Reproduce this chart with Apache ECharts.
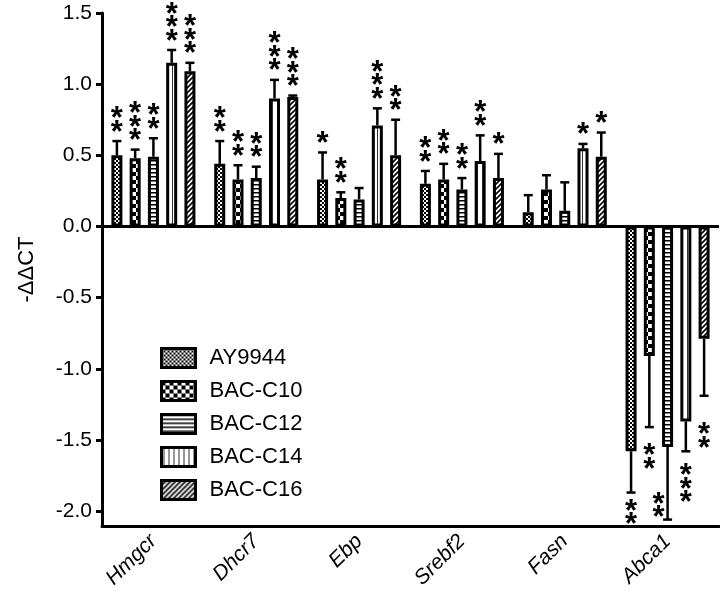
<!DOCTYPE html>
<html><head><meta charset="utf-8">
<script src="https://cdn.jsdelivr.net/npm/echarts@6/dist/echarts.min.js"></script>
<style>html,body{margin:0;padding:0;background:#fff}#c{width:720px;height:600px}</style>
</head><body><div id="c"></div>
<script>
// ---- data ----
const genes = ['Hmgcr', 'Dhcr7', 'Ebp', 'Srebf2', 'Fasn', 'Abca1'];
const seriesNames = ['AY9944', 'BAC-C10', 'BAC-C12', 'BAC-C14', 'BAC-C16'];
const ay9944 = [0.50, 0.44, 0.33, 0.30, 0.10, -1.58];
const bacC10 = [0.48, 0.33, 0.20, 0.33, 0.26, -0.91];
const bacC12 = [0.49, 0.34, 0.19, 0.26, 0.11, -1.55];
const bacC14 = [1.15, 0.90, 0.71, 0.46, 0.55, -1.37];
const bacC16 = [1.09, 0.91, 0.50, 0.34, 0.49, -0.79];
const ay9944Err = [0.10, 0.16, 0.19, 0.09, 0.12, 0.29];
const bacC10Err = [0.06, 0.10, 0.04, 0.11, 0.10, 0.50];
const bacC12Err = [0.13, 0.08, 0.08, 0.08, 0.20, 0.51];
const bacC14Err = [0.09, 0.13, 0.12, 0.18, 0.03, 0.21];
const bacC16Err = [0.06, 0.01, 0.25, 0.17, 0.17, 0.40];
// number of significance asterisks
const ay9944Stars = [2, 2, 1, 2, 0, 2];
const bacC10Stars = [3, 2, 2, 2, 0, 2];
const bacC12Stars = [2, 2, 0, 2, 0, 2];
const bacC14Stars = [3, 3, 3, 2, 1, 3];
const bacC16Stars = [3, 3, 2, 1, 1, 2];
// value at which the first asterisk of the negative (Abca1) bars sits
const abca1StarAt = [-1.96, -1.57, -1.91, -1.71, -1.42];
const yTicks = [-2.0, -1.5, -1.0, -0.5, 0.0, 0.5, 1.0, 1.5];
const yMin = -2.105, yMax = 1.5;

const values = [ay9944, bacC10, bacC12, bacC14, bacC16];
const errs = [ay9944Err, bacC10Err, bacC12Err, bacC14Err, bacC16Err];
const stars = [ay9944Stars, bacC10Stars, bacC12Stars, bacC14Stars, bacC16Stars];

// ---- patterns ----
function makePattern(kind) {
  const c = document.createElement('canvas');
  let s = 4;
  if (kind === 'check') s = 8;
  if (kind === 'vlines') s = 5;
  if (kind === 'diag') s = 5;
  c.width = s; c.height = s;
  const g = c.getContext('2d');
  g.fillStyle = '#fff'; g.fillRect(0, 0, s, s);
  g.fillStyle = '#000'; g.strokeStyle = '#000';
  if (kind === 'fine') { g.fillRect(0, 0, 2, 2); g.fillRect(2, 2, 2, 2); }
  if (kind === 'check') { g.fillRect(0, 0, 4, 4); g.fillRect(4, 4, 4, 4); }
  if (kind === 'hlines') { g.fillRect(0, 0, s, 1.5); }
  if (kind === 'vlines') { g.fillStyle = '#333'; g.fillRect(2, 0, 1, s); }
  if (kind === 'diag') {
    g.lineWidth = 1.6;
    g.beginPath();
    g.moveTo(-1, s + 1); g.lineTo(s + 1, -1);
    g.moveTo(-1, 1); g.lineTo(1, -1);
    g.moveTo(s - 1, s + 1); g.lineTo(s + 1, s - 1);
    g.stroke();
  }
  return { image: c, repeat: 'repeat' };
}
const patterns = ['fine', 'check', 'hlines', 'vlines', 'diag'].map(makePattern);

const BAR_W = 11, BAR_GAP = 0.66;
const FONT = '"Liberation Sans", Arial, Helvetica, sans-serif';

const barSeries = seriesNames.map((n, i) => ({
  name: n, type: 'bar', data: values[i], barWidth: BAR_W, barGap: '66%',
  itemStyle: { color: patterns[i], borderColor: '#000', borderWidth: 3 },
  emphasis: { disabled: true }, z: 2,
  markLine: i === 0 ? {
    silent: true, symbol: 'none', label: { show: false },
    lineStyle: { color: '#000', width: 3, type: 'solid' },
    data: [{ yAxis: 0 }]
  } : undefined
}));

const errData = [];
for (let s = 0; s < 5; s++) {
  for (let c = 0; c < genes.length; c++) {
    const anchor = values[s][c] < 0 ? abca1StarAt[s] : NaN;
    errData.push([c, s, values[s][c], errs[s][c], stars[s][c], anchor]);
  }
}

const errSeries = {
  type: 'custom', name: 'err', data: errData, z: 3,
  encode: { x: 0, y: 2 }, silent: true,
  renderItem(params, api) {
    const ci = api.value(0), si = api.value(1), v = api.value(2), e = api.value(3), n = api.value(4), anchor = api.value(5);
    const base = api.coord([ci, v]);
    const x = base[0] + (si - 2) * BAR_W * (1 + BAR_GAP);
    const y0 = base[1];
    const y1 = api.coord([ci, v >= 0 ? v + e : v - e])[1];
    const children = [
      { type: 'line', shape: { x1: x, y1: y0, x2: x, y2: y1 }, style: { stroke: '#000', lineWidth: 2.5 } },
      { type: 'line', shape: { x1: x - 4.5, y1: y1, x2: x + 4.5, y2: y1 }, style: { stroke: '#000', lineWidth: 2.5 } }
    ];
    for (let k = 0; k < n; k++) {
      let cy, cx = x;
      if (v >= 0) {
        cy = y1 - 15 - (n - 1 - k) * 13.5;
      } else {
        const top = isNaN(anchor) ? y1 + 13 : api.coord([ci, anchor])[1];
        cy = top + k * 13.5;
        if (top + (n - 1) * 13.5 < y1 + 4) cx = x - 9;
      }
      children.push({ type: 'text', style: { text: '*', x: cx, y: cy + 7, font: 'bold 31px ' + FONT, textAlign: 'center', textVerticalAlign: 'middle', fill: '#000' } });
    }
    return { type: 'group', children };
  }
};

const chart = echarts.init(document.getElementById('c'), null, { renderer: 'canvas' });
chart.setOption({
  animation: false,
  backgroundColor: '#fff',
  grid: { left: 102, right: 1, top: 13, bottom: 74, containLabel: false },
  legend: {
    data: seriesNames, orient: 'vertical', left: 155, top: 342,
    icon: 'rect', itemWidth: 34, itemHeight: 19, itemGap: 11,
    itemStyle: { borderColor: '#000', borderWidth: 3 },
    textStyle: { fontFamily: FONT, fontSize: 22, color: '#000', padding: [0, 0, 0, 9] },
    selectedMode: false
  },
  xAxis: {
    type: 'category', data: genes,
    axisLine: { onZero: false, lineStyle: { color: '#000', width: 3 } },
    axisTick: { alignWithLabel: true, length: 7, lineStyle: { color: '#000', width: 3 } },
    axisLabel: { rotate: 45, fontFamily: FONT, fontSize: 21, fontStyle: 'italic', color: '#000', margin: 12 },
    splitLine: { show: false }
  },
  yAxis: {
    type: 'value', min: yMin, max: yMax,
    name: '-ΔΔCT', nameLocation: 'middle', nameGap: 64, nameRotate: 90,
    nameTextStyle: { fontFamily: FONT, fontSize: 22, color: '#000' },
    axisLine: { show: true, lineStyle: { color: '#000', width: 3 } },
    axisTick: { show: true, length: 6, customValues: yTicks, lineStyle: { color: '#000', width: 3 } },
    axisLabel: { customValues: yTicks, fontFamily: FONT, fontSize: 21, color: '#000', margin: 10, formatter: v => v.toFixed(1) },
    splitLine: { show: false }
  },
  series: [...barSeries, errSeries]
});
</script></body></html>
